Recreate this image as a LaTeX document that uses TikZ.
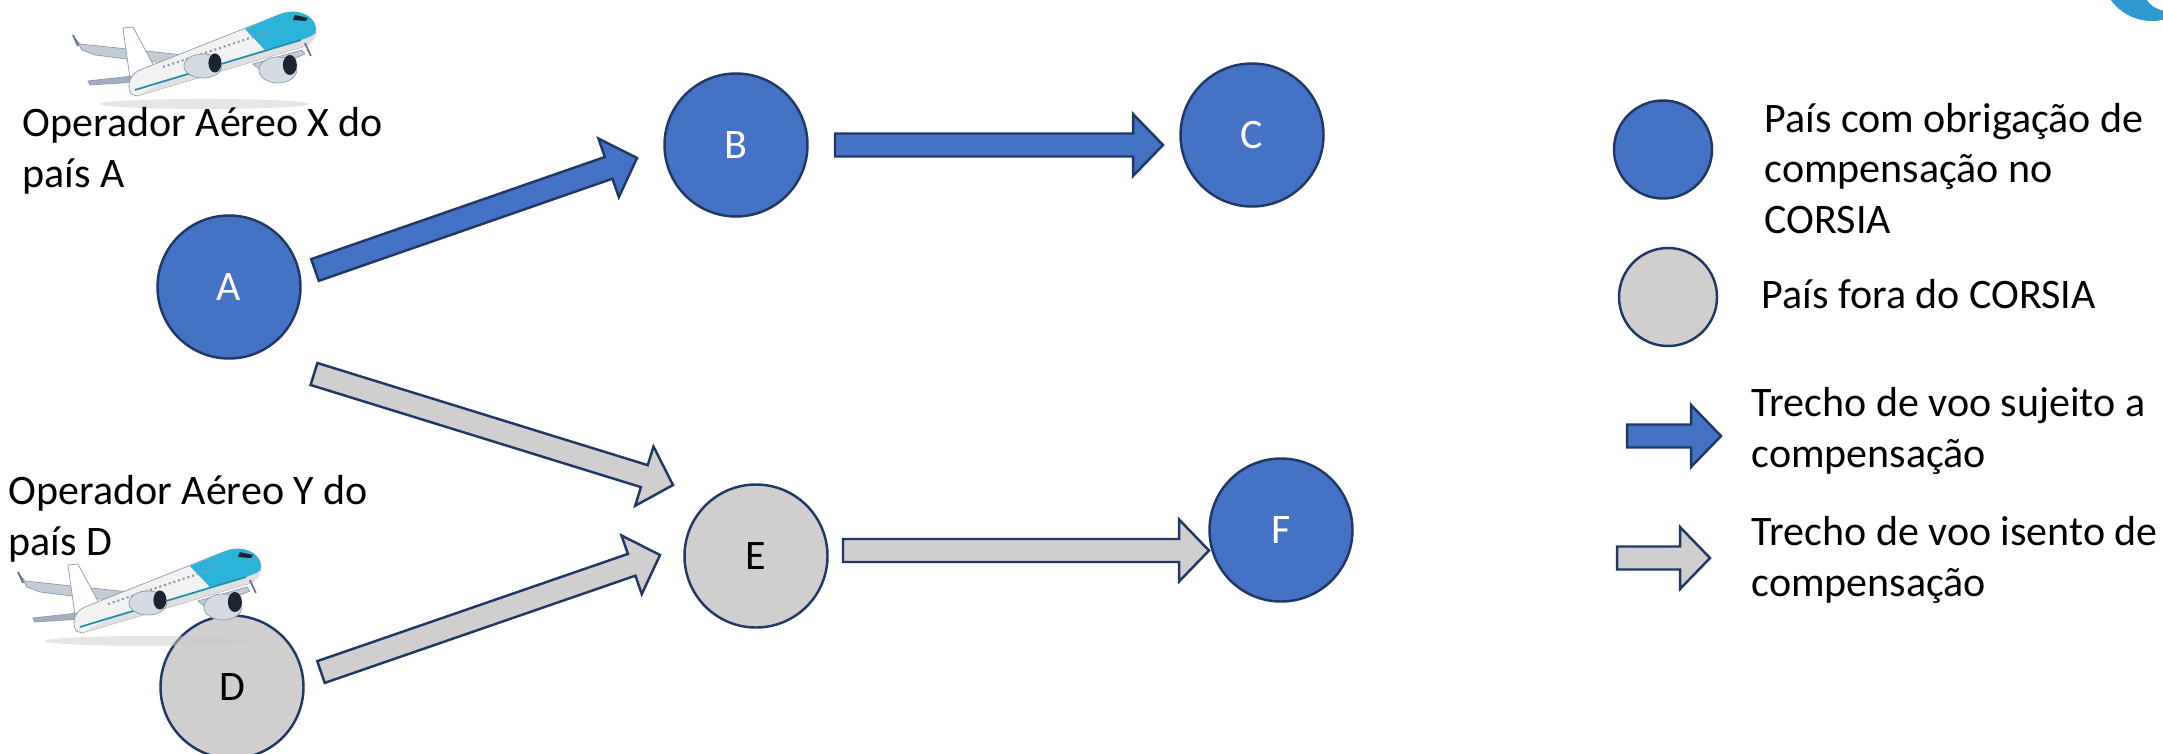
\documentclass[tikz,border=0pt]{standalone}
\usepackage{fontspec}
\setmainfont{Carlito}
\usetikzlibrary{calc}
\definecolor{azul}{HTML}{4472C4}
\definecolor{cinza}{HTML}{D0CECE}
\definecolor{borda}{HTML}{203864}
\definecolor{turquesa}{HTML}{2BB3DA}
\definecolor{logo}{HTML}{2E9AD0}
\definecolor{asa}{HTML}{C3CBD5}
\definecolor{contorno}{HTML}{8E9AAA}
\definecolor{motor}{HTML}{1B2430}

% seta larga (bloco) de #2 ate #3
\newcommand{\trecho}[3]{%
  \coordinate (ponta) at ($(#3)!0.30cm!(#2)$);
  \draw[#1] ($(#2)!0.115cm!90:(#3)$) -- ($(ponta)!0.115cm!-90:(#2)$) -- ($(ponta)!0.31cm!-90:(#2)$) -- (#3)
    -- ($(ponta)!0.31cm!90:(#2)$) -- ($(ponta)!0.115cm!90:(#2)$) -- ($(#2)!0.115cm!-90:(#3)$) -- cycle;}

\begin{document}
\begin{tikzpicture}[font=\fontsize{11.95pt}{14.3pt}\selectfont]
\tikzset{
  pais/.style = {circle, draw=borda, line width=0.7pt, minimum size=1.43cm, inner sep=0pt},
  paisazul/.style = {pais, fill=azul, text=white},
  paiscinza/.style = {pais, fill=cinza, text=black},
  legenda/.style = {circle, draw=borda, line width=0.7pt, minimum size=0.98cm, inner sep=0pt},
  setaazul/.style = {fill=azul, draw=borda, line width=0.7pt, line join=miter},
  setacinza/.style = {fill=cinza, draw=borda, line width=0.7pt, line join=miter},
  rotulo/.style = {anchor=base west, align=left, inner sep=0pt}, % base = ultima linha
  aviao/.pic = {
    \begin{scope}[x=0.01cm, y=-0.01cm]
    \fill[gray!40, opacity=0.5] (132,94) ellipse [x radius=1.05cm, y radius=0.05cm]; % sombra
    \filldraw[fill=asa, draw=contorno, line width=0.2pt] (2,28) -- (7,34) -- (120,46) -- (122,53) -- (77,52) -- (22,45) -- (9,40) -- cycle;
    \draw[borda!70, line width=0.5pt] (0,25) -- (5,36);
    \filldraw[fill=white, draw=contorno, line width=0.2pt] (50,18) -- (60,17) -- (82,58) -- (75,68) -- (57,68) -- cycle;
    \filldraw[fill=asa!80!borda, draw=contorno, line width=0.2pt] (15,71) -- (60,66) -- (75,68) -- (65,72) -- (17,75) -- cycle;
    \filldraw[fill=black!5, draw=contorno, line width=0.2pt] (58,84) .. controls (53,74) and (58,64) .. (67,60) -- (208,4)
      .. controls (226,-2) and (242,6) .. (243,19) .. controls (243,30) and (236,36) .. (226,38) -- (64,86) -- cycle;
    \fill[black!12] (64,86) -- (226,38) .. controls (236,36) and (243,30) .. (243,24) -- (90,72) -- cycle;
    \fill[turquesa] (172,19) -- (208,4) .. controls (226,-2) and (242,6) .. (243,19) .. controls (242,25) .. (228,30) -- (192,40) -- cycle;
    \draw[turquesa!80!black, line width=0.5pt] (62,80) -- (228,30);
    \draw[contorno, line width=0.6pt, dash pattern=on 0.6pt off 0.8pt] (90,57) -- (195,22);
    \fill[motor] (222,5) -- (235,8) -- (233,11) -- (220,10) -- cycle;
    \filldraw[fill=asa, draw=contorno, line width=0.2pt] (180,54) -- (229,40) -- (232,44) -- (190,62) -- cycle;
    \draw[borda!70, line width=0.5pt] (232,33) -- (238,46);
    \filldraw[fill=asa!70, draw=contorno, line width=0.2pt] (130,56) ellipse [x radius=0.19cm, y radius=0.12cm];
    \fill[motor] (142,53) ellipse [x radius=0.065cm, y radius=0.095cm];
    \filldraw[fill=asa!70, draw=contorno, line width=0.2pt] (205,60) ellipse [x radius=0.19cm, y radius=0.13cm];
    \fill[motor] (217,55) ellipse [x radius=0.07cm, y radius=0.10cm];
    \end{scope}
  }
}
\useasboundingbox (0,0) rectangle (21.63,-7.53);

% logotipo cortado no canto
\begin{scope}
\clip (0,0) rectangle (21.63,-7.53);
\fill[logo] (21.52,0.30) circle (0.51);
\fill[white] (21.68,0.15) circle (0.26);
\end{scope}

% paises
\node[paisazul] (A) at (2.29,-2.87) {A};
\node[paisazul] (B) at (7.36,-1.45) {B};
\node[paisazul] (C) at (12.52,-1.35) {C};
\node[paiscinza] (D) at (2.32,-6.87) {D};
\node[paiscinza] (E) at (7.56,-5.56) {E};
\node[paisazul] (F) at (12.81,-5.30) {F};

% operadores
\pic at (0.73,-0.10) {aviao};
\pic at (0.18,-5.47) {aviao};
\node[rotulo] (opx) at (0.22,-1.87) {Operador Aéreo X do\\país A};
\node[rotulo] (opy) at (0.08,-5.55) {Operador Aéreo Y do\\país D};

% trechos de voo
\coordinate (ab0) at (3.15,-2.70);  \coordinate (ab1) at (6.37,-1.58);
\coordinate (ae0) at (3.14,-3.74);  \coordinate (ae1) at (6.73,-4.85);
\coordinate (de0) at (3.21,-6.72);  \coordinate (de1) at (6.60,-5.55);
\coordinate (bc0) at (8.35,-1.45);  \coordinate (bc1) at (11.63,-1.45);
\coordinate (ef0) at (8.43,-5.505); \coordinate (ef1) at (12.09,-5.505);
\trecho{setaazul}{ab0}{ab1}
\trecho{setaazul}{bc0}{bc1}
\trecho{setacinza}{ae0}{ae1}
\trecho{setacinza}{de0}{de1}
\trecho{setacinza}{ef0}{ef1}

% legenda
\node[legenda, fill=azul] (lg1) at (16.63,-1.495) {};
\node[legenda, fill=cinza] (lg2) at (16.68,-2.97) {};
\node[rotulo] (tx1) at (17.64,-2.33) {País com obrigação de\\compensação no\\CORSIA};
\node[rotulo] (tx2) at (17.61,-3.08) {País fora do CORSIA};
\coordinate (ls0) at (16.27,-4.36); \coordinate (ls1) at (17.21,-4.36);
\coordinate (li0) at (16.17,-5.58); \coordinate (li1) at (17.10,-5.58);
\trecho{setaazul}{ls0}{ls1}
\trecho{setacinza}{li0}{li1}
\node[rotulo] (tx3) at (17.51,-4.67) {Trecho de voo sujeito a\\compensação};
\node[rotulo] (tx4) at (17.51,-5.96) {Trecho de voo isento de\\compensação};
\end{tikzpicture}
\end{document}
